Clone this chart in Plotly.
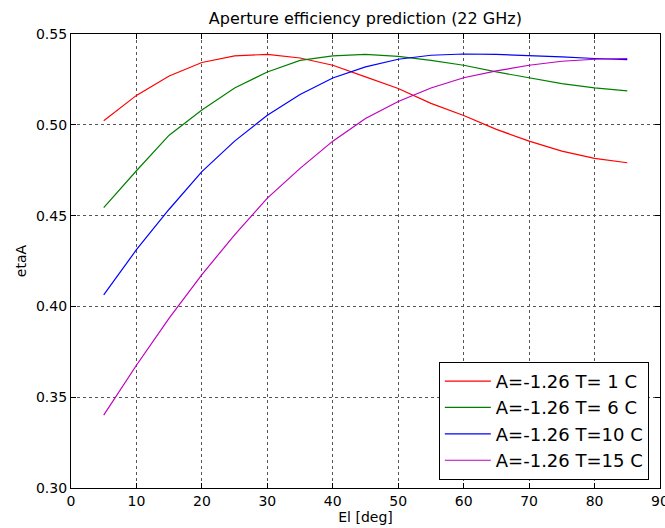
import plotly.graph_objects as go

# Elevation samples (deg)
elevation = [5, 10, 15, 20, 25, 30, 35, 40, 45, 50, 55, 60, 65, 70, 75, 80, 85]

# Predicted aperture efficiency for each temperature
eta_t1 = [0.5022, 0.5162, 0.5269, 0.5343, 0.5379, 0.5388, 0.5368, 0.5328, 0.5264,
          0.5200, 0.5118, 0.5051, 0.4975, 0.4910, 0.4855, 0.4815, 0.4791]
eta_t6 = [0.4544, 0.4747, 0.4943, 0.5081, 0.5203, 0.5291, 0.5355, 0.5379, 0.5388,
          0.5377, 0.5355, 0.5328, 0.5291, 0.5258, 0.5227, 0.5203, 0.5187]
eta_t10 = [0.4064, 0.4312, 0.4535, 0.4742, 0.4910, 0.5053, 0.5167, 0.5258, 0.5319,
           0.5361, 0.5383, 0.5390, 0.5388, 0.5383, 0.5374, 0.5365, 0.5359]
eta_t15 = [0.3401, 0.3676, 0.3935, 0.4175, 0.4394, 0.4596, 0.4760, 0.4910, 0.5035,
           0.5128, 0.5203, 0.5259, 0.5297, 0.5328, 0.5350, 0.5361, 0.5365]

series_names = ["A=-1.26 T= 1 C", "A=-1.26 T= 6 C", "A=-1.26 T=10 C", "A=-1.26 T=15 C"]
series_values = [eta_t1, eta_t6, eta_t10, eta_t15]
series_colors = ["#ff0000", "#008000", "#0000ff", "#bf00bf"]

x_ticks = [0, 10, 20, 30, 40, 50, 60, 70, 80, 90]
y_ticks = [0.30, 0.35, 0.40, 0.45, 0.50, 0.55]

font_family = "DejaVu Sans"

fig = go.Figure()
for name, vals, color in zip(series_names, series_values, series_colors):
    fig.add_trace(go.Scatter(
        x=elevation, y=vals, mode="lines", name=name,
        line=dict(color=color, width=1.2),
    ))

axis_common = dict(
    showline=True, linecolor="black", linewidth=1.2, mirror="allticks",
    ticks="inside", ticklen=5, tickwidth=1, tickcolor="black",
    showgrid=True, gridcolor="#555555", griddash="dot", gridwidth=1,
    zeroline=False, ticklabeloverflow="allow", automargin=False,
    tickfont=dict(family=font_family, size=14, color="black"),
)

fig.update_xaxes(
    range=[0, 90], tickvals=x_ticks, ticktext=[str(v) for v in x_ticks],
    title=dict(text="El [deg]", font=dict(family=font_family, size=14, color="black"), standoff=3),
    **axis_common,
)
fig.update_yaxes(
    range=[0.30, 0.55], tickvals=y_ticks, ticktext=[f"{v:.2f}" for v in y_ticks],
    title=dict(text="etaA", font=dict(family=font_family, size=14, color="black"), standoff=6),
    **axis_common,
)

fig.update_layout(
    width=665, height=528,
    margin=dict(l=71, r=5, t=34, b=40),
    paper_bgcolor="white", plot_bgcolor="white",
    font=dict(family=font_family, color="black"),
    title=dict(
        text="Aperture efficiency prediction (22 GHz)",
        font=dict(family=font_family, size=16, color="black"),
        x=0.5494, xanchor="center", y=0.965, yanchor="middle",
    ),
    legend=dict(
        x=0.981, y=0.018, xanchor="right", yanchor="bottom",
        bgcolor="white", bordercolor="black", borderwidth=1,
        font=dict(family=font_family, size=18, color="black"),
        itemwidth=46,
    ),
    showlegend=True,
)

fig.write_html("out.html")
